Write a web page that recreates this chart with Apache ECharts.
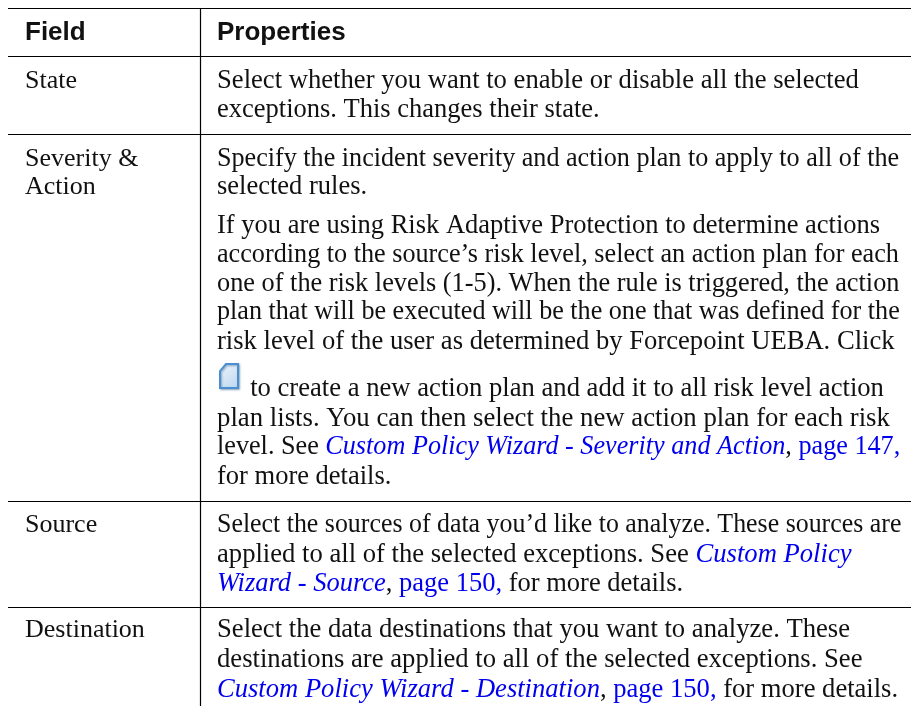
<!DOCTYPE html>
<html>
<head>
<meta charset="utf-8">
<style>html,body{margin:0;padding:0;background:#fff}#main{width:911px;height:706px}</style>
<script src="https://cdn.jsdelivr.net/npm/echarts@6/dist/echarts.min.js"></script>
</head>
<body>
<div id="main"></div>
<script>
// table text, {link|...} and {ref|...} are the blue parts
var headers = ['Field', 'Properties'];
var fieldNames = [
	['State'],
	['Severity &', 'Action'],
	['Source'],
	['Destination']
];
var propertyLines = [
	['Select whether you want to enable or disable all the selected', 'exceptions. This changes their state.'],
	['Specify the incident severity and action plan to apply to all of the', 'selected rules.',
	 'If you are using Risk Adaptive Protection to determine actions', 'according to the source’s risk level, select an action plan for each', 'one of the risk levels (1-5). When the rule is triggered, the action', 'plan that will be executed will be the one that was defined for the', 'risk level of the user as determined by Forcepoint UEBA. Click',
	 '{icon|}to create a new action plan and add it to all risk level action', 'plan lists. You can then select the new action plan for each risk', 'level. See {ref|Custom Policy Wizard - Severity and Action}, {link|page 147,}', 'for more details.'],
	['Select the sources of data you’d like to analyze. These sources are', 'applied to all of the selected exceptions. See {ref|Custom Policy}', '{ref|Wizard - Source}, {link|page 150,} for more details.'],
	['Select the data destinations that you want to analyze. These', 'destinations are applied to all of the selected exceptions. See', '{ref|Custom Policy Wizard - Destination}, {link|page 150,} for more details.']
];
// y of each text line, by row
var propertyY = [
	[81, 110],
	[159, 187, 226, 255, 284, 312, 342, 389, 419, 447, 477],
	[525, 555, 584],
	[630, 660, 690]
];
// the lines of the source are set a little tighter or looser than the font
var lineScale = [
	[1.005, 1],
	[0.986, 1, 1, 0.988, 0.993, 0.986, 1.004, 1.005, 1.01, 0.988, 1],
	[0.977, 1.005, 1],
	[1.005, 1.006, 1.003]
];
var fieldY = [[81], [159, 187], [525], [630]];
var ruleY = [8, 56, 134, 501, 607];

var myChart = echarts.init(document.getElementById('main'));
var serif = '"Liberation Serif", serif';
var sans = '"Liberation Sans", sans-serif';
var elements = [];

ruleY.forEach(function (y) {
	elements.push({type: 'line', shape: {x1: 8, y1: y + 0.5, x2: 911, y2: y + 0.5}, style: {stroke: '#000', lineWidth: 1.2}});
});
elements.push({type: 'line', shape: {x1: 200.5, y1: 8, x2: 200.5, y2: 706}, style: {stroke: '#000', lineWidth: 1.2}});

function textItem(str, x, y, font, weight, size, scale) {
	return {
		type: 'text', x: x, y: y, scaleX: scale || 1,
		style: {
			text: str, fill: '#111', fontFamily: font, fontWeight: weight, fontSize: size,
			verticalAlign: 'middle', rich: {
				ref: {fill: '#0000ee', fontFamily: serif, fontStyle: 'italic', fontSize: size},
				link: {fill: '#0000ee', fontFamily: serif, fontSize: size},
				icon: {width: 33, fontSize: size}
			}
		}
	};
}
elements.push(textItem(headers[0], 25, 33, sans, 'bold', 26));
elements.push(textItem(headers[1], 217, 33, sans, 'bold', 26));
fieldNames.forEach(function (names, r) {
	names.forEach(function (s, i) {
		elements.push(textItem(s, 25, fieldY[r][i], serif, 'normal', 26));
	});
});
propertyLines.forEach(function (lines, r) {
	lines.forEach(function (s, i) {
		elements.push(textItem(s, 217, propertyY[r][i], serif, 'normal', 26.5, lineScale[r][i]));
	});
});

// new-file icon in the text
elements.push({type: 'polygon', shape: {points: [[226, 364], [238, 364], [238, 388], [220, 388], [220, 371]]},
	style: {
		fill: new echarts.graphic.LinearGradient(0, 0, 1, 1, [{offset: 0, color: '#eef5fc'}, {offset: 1, color: '#bcd6ef'}]),
		stroke: '#4a90d0', lineWidth: 2, shadowBlur: 2, shadowColor: 'rgba(60,100,140,0.5)', shadowOffsetX: 1, shadowOffsetY: 1
	}});

myChart.setOption({animation: false, graphic: {elements: elements}});
window.addEventListener("resize", function () {
	myChart.resize();
});
</script>
</body>
</html>
